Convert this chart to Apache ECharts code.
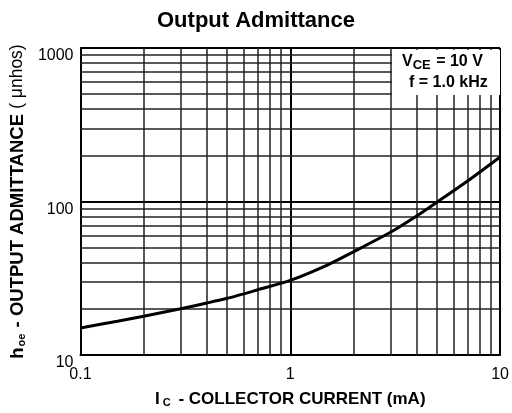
<!DOCTYPE html>
<html><head><meta charset="utf-8">
<script src="https://cdn.jsdelivr.net/npm/echarts@6/dist/echarts.min.js"></script>
<style>html,body{margin:0;padding:0;background:#fff}#c{width:512px;height:413px}</style>
</head><body><div id="c"></div>
<script>
const currentMA = [0.1, 0.15, 0.2, 0.3, 0.4, 0.5, 0.7, 1, 1.5, 2, 3, 4, 5, 7, 10];
const admittance = [15.0, 16.6, 17.9, 20.0, 21.8, 23.4, 26.6, 30.6, 38.5, 47, 63, 80.5, 99, 136, 195];
const xMinorGrid = [0.2,0.3,0.4,0.5,0.6,0.7,0.8,0.9,2,3,4,5,6,7,8,9];
const yMinorGrid = [20,30,40,50,60,70,80,90,200,300,400,500,600,700,800,900];
const xTickLabels = {0.1:'0.1', 1:'1', 10:'10'};
const yTickLabels = {10:'10', 100:'100', 1000:'1000'};

const FONT = 'Liberation Sans, Arial, sans-serif';
const chart = echarts.init(document.getElementById('c'));
const minorLines = xMinorGrid.map(v => ({xAxis: v})).concat(yMinorGrid.map(v => ({yAxis: v})));
chart.setOption({
  animation: false,
  title: {text: 'Output Admittance', left: 'center', top: 5,
    textStyle: {fontFamily: FONT, fontSize: 22, fontWeight: 'bold', color: '#000'}},
  grid: {left: 80, right: 11, top: 48, bottom: 54},
  xAxis: {type: 'log', logBase: 10, min: 0.1, max: 10,
    name: '{a|I}{s|C}{a| - COLLECTOR CURRENT (mA)}', nameLocation: 'middle', nameGap: 35,
    nameTextStyle: {rich: {a: {fontFamily: FONT, fontSize: 17, fontWeight: 'bold', color: '#000'},
      s: {fontFamily: FONT, fontSize: 11, fontWeight: 'bold', color: '#000', verticalAlign: 'bottom', padding: [7,3,0,3]}}},
    axisLine: {show: true, lineStyle: {color: '#000', width: 2}},
    axisTick: {show: false},
    axisLabel: {formatter: v => xTickLabels[+(+v).toPrecision(3)] || '', fontFamily: FONT, fontSize: 16, color: '#000', margin: 12},
    splitLine: {show: true, lineStyle: {color: '#000', width: 2}}
  },
  yAxis: {type: 'log', logBase: 10, min: 10, max: 1000,
    name: '{a|h}{s|oe}{a| - OUTPUT ADMITTANCE }{b|( \u03bcnhos)}', nameLocation: 'middle', nameGap: 50, nameRotate: 90,
    nameTextStyle: {rich: {a: {fontFamily: FONT, fontSize: 18.5, fontWeight: 'bold', color: '#000'},
      b: {fontFamily: FONT, fontSize: 17.5, color: '#000'},
      s: {fontFamily: FONT, fontSize: 11, fontWeight: 'bold', color: '#000', verticalAlign: 'bottom', padding: [8,1,0,1]}}},
    axisLine: {show: true, lineStyle: {color: '#000', width: 2}},
    axisTick: {show: false},
    axisLabel: {formatter: v => yTickLabels[Math.round(v)] || '', fontFamily: FONT, fontSize: 16, color: '#000', margin: 7, verticalAlign: 'top'},
    splitLine: {show: true, lineStyle: {color: '#000', width: 2}}
  },
  series: [{
    type: 'line', data: [], silent: true,
    markLine: {silent: true, symbol: 'none', label: {show: false},
      lineStyle: {color: '#222', width: 1.5, type: 'solid'}, data: minorLines, animation: false}
  }, {
    type: 'line', smooth: 0.25, showSymbol: false, z: 5,
    data: currentMA.map((x, i) => [x, admittance[i]]),
    lineStyle: {color: '#000', width: 3}
  }],
  graphic: [
    {type: 'rect', z: 100, shape: {x: 392, y: 50, width: 108, height: 45}, style: {fill: '#fff'}},
    {type: 'text', z: 101, left: 402, top: 54, style: {
      text: '{a|V}{s|CE}{a| = 10 V}', rich: {a: {fontFamily: FONT, fontSize: 16, fontWeight: 'bold', fill: '#000'},
      s: {fontFamily: FONT, fontSize: 13, fontWeight: 'bold', fill: '#000', verticalAlign: 'bottom', padding: [6,1,0,0]}}}},
    {type: 'text', z: 101, left: 409, top: 75, style: {
      text: 'f = 1.0 kHz', font: 'bold 16px Liberation Sans, Arial, sans-serif', fill: '#000'}}
  ]
});
</script></body></html>
